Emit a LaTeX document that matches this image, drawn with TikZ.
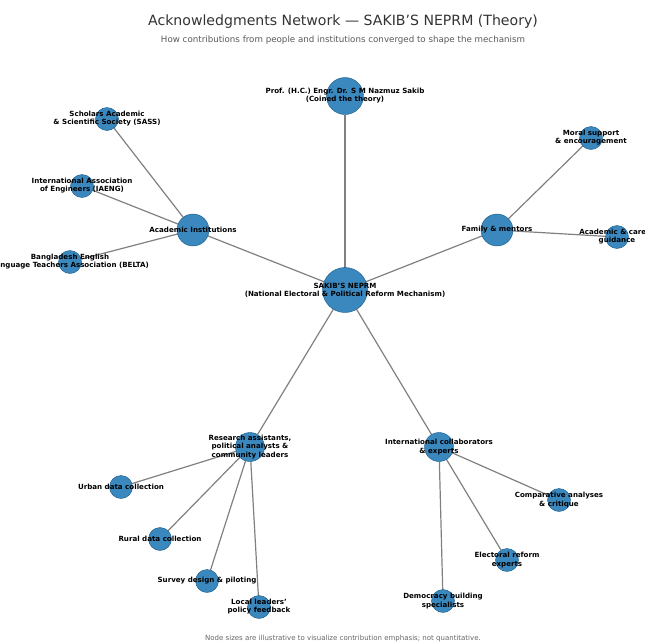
\documentclass[tikz,border=0pt]{standalone}
\usepackage{fontspec}
\setmainfont{DejaVu Sans}
\usetikzlibrary{backgrounds}

\definecolor{nodeblue}{RGB}{31,119,180}
\definecolor{edgegray}{RGB}{128,128,128}

\begin{document}
\begin{tikzpicture}[
                x=1pt, y=-1pt,
                node/.style = {
                    draw=nodeblue!75!black,
                    circle,
                    fill=nodeblue,
                    fill opacity=0.88,
                    minimum size = #1,
                    inner sep = 0pt,
                    outer sep = 0pt
                },
                node/.default = 23pt,
                lbl/.style = {
                    font=\fontsize{7.1}{8.1}\selectfont\bfseries,
                    align=center,
                    text=black,
                    text opacity=1,
                    inner sep=0pt
                },
                link/.style = {line width=1.2pt, edgegray}
            ]
            \useasboundingbox (0,0) rectangle (645,643);
            \clip (0,0) rectangle (645,643);
            % titles
            \node[font=\fontsize{14.1}{16}\selectfont, text=black!80] (title) at (343,22) {Acknowledgments Network — SAKIB’S NEPRM (Theory)};
            \node[font=\fontsize{8.7}{10}\selectfont, text=black!65] (subtitle) at (343,40) {How contributions from people and institutions converged to shape the mechanism};
            \node[font=\fontsize{7}{8}\selectfont, text=black!60] (note) at (343,639) {Node sizes are illustrative to visualize contribution emphasis; not quantitative.};
            % 
            \node[node=45pt, label={[lbl]center:{SAKIB’S NEPRM\\(National Electoral \& Political Reform Mechanism)}}] (neprm) at (345,290) {};
            \node[node=37pt, label={[lbl]center:{Prof. (H.C.) Engr. Dr. S M Nazmuz Sakib\\(Coined the theory)}}] (sakib) at (345,96) {};
            % 
            \node[node=32pt, label={[lbl]center:Academic Institutions}] (acad) at (193,230) {};
            \node[node, label={[lbl]center:{Scholars Academic\\\& Scientific Society (SASS)}}] (sass) at (107,119) {};
            \node[node, label={[lbl]center:{International Association\\of Engineers (IAENG)}}] (iaeng) at (82,186) {};
            \node[node, label={[lbl]center:{Bangladesh English\\Language Teachers Association (BELTA)}}] (belta) at (70,262) {};
            % 
            \node[node=32pt, label={[lbl]center:Family \& mentors}] (family) at (497,230) {};
            \node[node, label={[lbl]center:{Moral support\\\& encouragement}}] (moral) at (591,138) {};
            \node[node, label={[lbl]center:{Academic \& career\\guidance}}] (career) at (617,237) {};
            % 
            \node[node=29pt, label={[lbl]center:{Research assistants,\\political analysts \&\\community leaders}}] (research) at (250,447) {};
            \node[node, label={[lbl]center:Urban data collection}] (urban) at (121,487) {};
            \node[node, label={[lbl]center:Rural data collection}] (rural) at (160,539) {};
            \node[node, label={[lbl]center:Survey design \& piloting}] (survey) at (207,581) {};
            \node[node, label={[lbl]center:{Local leaders’\\policy feedback}}] (local) at (259,607) {};
            % 
            \node[node=29pt, label={[lbl]center:{International collaborators\\\& experts}}] (intl) at (439,447) {};
            \node[node, label={[lbl]center:{Comparative analyses\\\& critique}}] (compar) at (559,500) {};
            \node[node, label={[lbl]center:{Electoral reform\\experts}}] (electoral) at (507,560) {};
            \node[node, label={[lbl]center:{Democracy building\\specialists}}] (democracy) at (443,601) {};
            % 
            \begin{scope}[on background layer]
            \draw[link] (neprm) -- (sakib);
            \draw[link] (neprm) -- (acad);
            \draw[link] (neprm) -- (family);
            \draw[link] (neprm) -- (research);
            \draw[link] (neprm) -- (intl);
            % 
            \draw[link] (acad) -- (sass);
            \draw[link] (acad) -- (iaeng);
            \draw[link] (acad) -- (belta);
            \draw[link] (family) -- (moral);
            \draw[link] (family) -- (career);
            % 
            \draw[link] (research) -- (urban);
            \draw[link] (research) -- (rural);
            \draw[link] (research) -- (survey);
            \draw[link] (research) -- (local);
            \draw[link] (intl) -- (compar);
            \draw[link] (intl) -- (electoral);
            \draw[link] (intl) -- (democracy);
            \end{scope}
            % 
        \end{tikzpicture}
\end{document}
